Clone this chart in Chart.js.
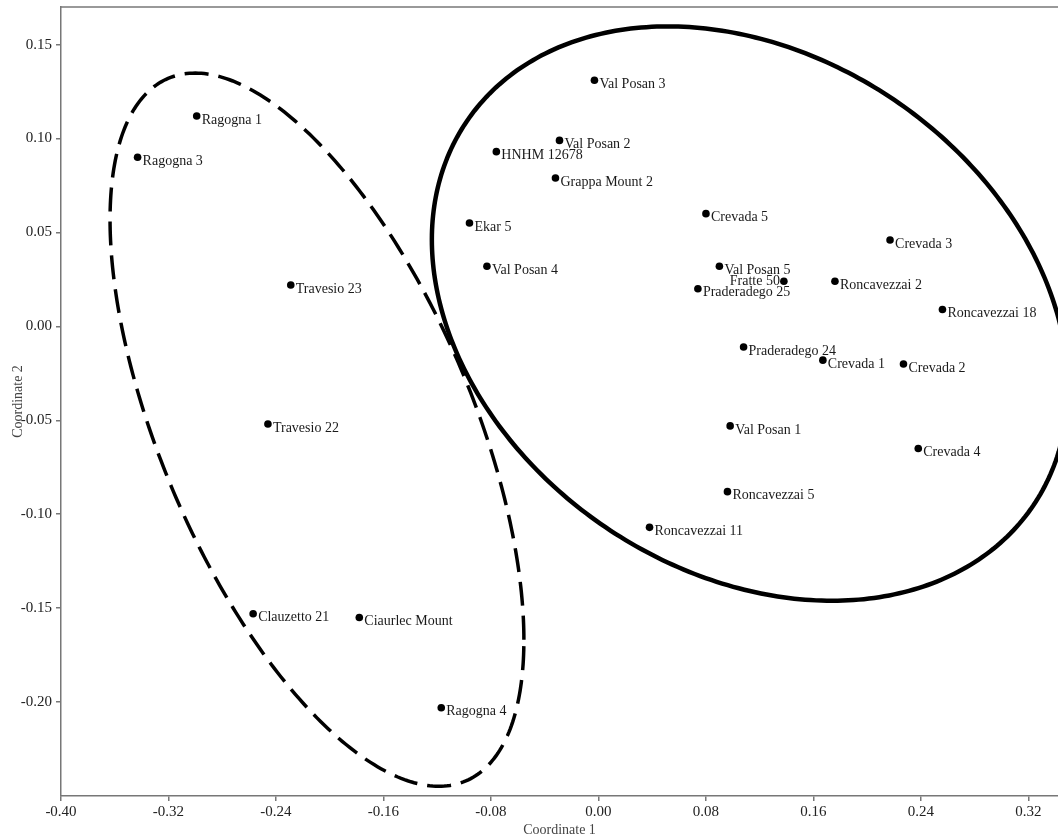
<!DOCTYPE html>
<html lang="en">
<head>
<meta charset="UTF-8" />
<title>Coordinate 1 / Coordinate 2</title>
<script src="https://cdn.jsdelivr.net/npm/chart.js"></script>
<style>
  html, body { margin:0; padding:0; background:#fff; }
  canvas { display:block; }
</style>
</head>
<body>
<canvas id="chart" width="1058" height="839"></canvas>

<script>
// ---- data ----
const names = [
  'Ragogna 1','Ragogna 3','Travesio 23','Travesio 22','Clauzetto 21','Ciaurlec Mount','Ragogna 4',
  'Val Posan 3','Val Posan 2','HNHM 12678','Grappa Mount 2','Ekar 5','Val Posan 4','Crevada 5',
  'Crevada 3','Val Posan 5','Fratte 50','Praderadego 25','Roncavezzai 2','Roncavezzai 18',
  'Praderadego 24','Crevada 1','Crevada 2','Val Posan 1','Crevada 4','Roncavezzai 5','Roncavezzai 11'
];
const coord1 = [
  -0.299,-0.343,-0.229,-0.246,-0.257,-0.178,-0.117,
  -0.003,-0.029,-0.076,-0.032,-0.096,-0.083, 0.080,
   0.217, 0.090, 0.138, 0.074, 0.176, 0.256,
   0.108, 0.167, 0.227, 0.098, 0.238, 0.096, 0.038
];
const coord2 = [
   0.112, 0.090, 0.022,-0.052,-0.153,-0.155,-0.203,
   0.131, 0.099, 0.093, 0.079, 0.055, 0.032, 0.060,
   0.046, 0.032, 0.024, 0.020, 0.024, 0.009,
  -0.011,-0.018,-0.020,-0.053,-0.065,-0.088,-0.107
];
const leftLabels = ['Fratte 50'];

const xTicks = [-0.40,-0.32,-0.24,-0.16,-0.08,0.00,0.08,0.16,0.24,0.32];
const yTicks = [-0.20,-0.15,-0.10,-0.05,0.00,0.05,0.10,0.15];

// group outlines: centre + two conjugate half-axes (data units)
const dashedGroup = { cx:-0.2095, cy:-0.0550, a:[0.1540,-0.1118], b:[0, 0.1534] };
const solidGroup  = { cx: 0.1127, cy: 0.0068, a:[0.2367,-0.0394], b:[0, 0.1477] };

Chart.defaults.font.family = '"Liberation Serif", "Times New Roman", serif';
Chart.defaults.color = '#222';

function ellipsePath(ctx, xs, ys, e){
  ctx.beginPath();
  for (let k = 0; k <= 360; k++){
    const t = k * Math.PI / 180;
    const vx = e.cx + Math.cos(t)*e.a[0] + Math.sin(t)*e.b[0];
    const vy = e.cy + Math.cos(t)*e.a[1] + Math.sin(t)*e.b[1];
    const px = xs.getPixelForValue(vx), py = ys.getPixelForValue(vy);
    if (k === 0) ctx.moveTo(px, py); else ctx.lineTo(px, py);
  }
  ctx.closePath();
}

const groupOutlines = {
  id:'groupOutlines',
  beforeDatasetsDraw(chart){
    const {ctx, chartArea:a, scales:{x, y}} = chart;
    ctx.save();
    ctx.beginPath();
    ctx.rect(a.left, a.top, a.right - a.left, a.bottom - a.top);
    ctx.clip();
    ctx.strokeStyle = '#000';
    ctx.lineWidth = 3.5;
    ctx.setLineDash([24, 10]);
    ellipsePath(ctx, x, y, dashedGroup);
    ctx.stroke();
    ctx.setLineDash([]);
    ctx.lineWidth = 4.5;
    ellipsePath(ctx, x, y, solidGroup);
    ctx.stroke();
    ctx.restore();
  },
  afterDraw(chart){
    const {ctx, chartArea:a} = chart;
    ctx.save();
    ctx.strokeStyle = '#777';
    ctx.lineWidth = 1.5;
    ctx.beginPath();
    ctx.moveTo(a.left, a.top);
    ctx.lineTo(a.right, a.top);
    ctx.stroke();
    ctx.restore();
  }
};

const pointLabels = {
  id:'pointLabels',
  afterDatasetsDraw(chart){
    const {ctx, scales:{x, y}} = chart;
    ctx.save();
    ctx.font = '14px "Liberation Serif"';
    ctx.fillStyle = '#1a1a1a';
    ctx.textBaseline = 'middle';
    names.forEach((n, i) => {
      const px = x.getPixelForValue(coord1[i]);
      const py = y.getPixelForValue(coord2[i]);
      if (leftLabels.includes(n)) {
        ctx.textAlign = 'right';
        ctx.fillText(n, px - 4, py);
      } else {
        ctx.textAlign = 'left';
        ctx.fillText(n, px + 5, py + 4);
      }
    });
    ctx.restore();
  }
};

const axisLook = {
  border:{ color:'#777', width:1.5 },
  grid:{ display:true, drawOnChartArea:false, drawTicks:true, tickLength:5, color:'#777', lineWidth:1.5 }
};

new Chart(document.getElementById('chart'), {
  type:'scatter',
  data:{
    datasets:[{
      data: coord1.map((v, i) => ({ x:v, y:coord2[i] })),
      pointRadius:3.8,
      pointBackgroundColor:'#000',
      pointBorderWidth:0
    }]
  },
  options:{
    responsive:false,
    animation:false,
    layout:{ autoPadding:false, padding:{ top:7, right:0, left:0, bottom:0 } },
    plugins:{ legend:{ display:false }, tooltip:{ enabled:false } },
    scales:{
      x:{
        type:'linear', min:-0.40, max:0.342,
        ...axisLook,
        afterBuildTicks: s => { s.ticks = xTicks.map(v => ({ value:v })); },
        afterFit: s => { s.height = 43; s.paddingLeft = 0; s.paddingRight = 0; },
        ticks:{ font:{ size:15 }, color:'#222', padding:2, maxRotation:0,
                callback: v => v.toFixed(2) },
        title:{ display:true, text:'Coordinate 1', color:'#444', font:{ size:14 }, padding:{ top:0, bottom:0 } }
      },
      y:{
        type:'linear', min:-0.25, max:0.170,
        ...axisLook,
        afterBuildTicks: s => { s.ticks = yTicks.map(v => ({ value:v })); },
        afterFit: s => { s.width = 61; s.paddingTop = 0; s.paddingBottom = 0; },
        ticks:{ font:{ size:15 }, color:'#222', padding:4,
                callback: v => v.toFixed(2) },
        title:{ display:true, text:'Coordinate 2', color:'#444', font:{ size:14 }, padding:{ top:10, bottom:0 } }
      }
    }
  },
  plugins:[groupOutlines, pointLabels]
});
</script>
</body>
</html>
